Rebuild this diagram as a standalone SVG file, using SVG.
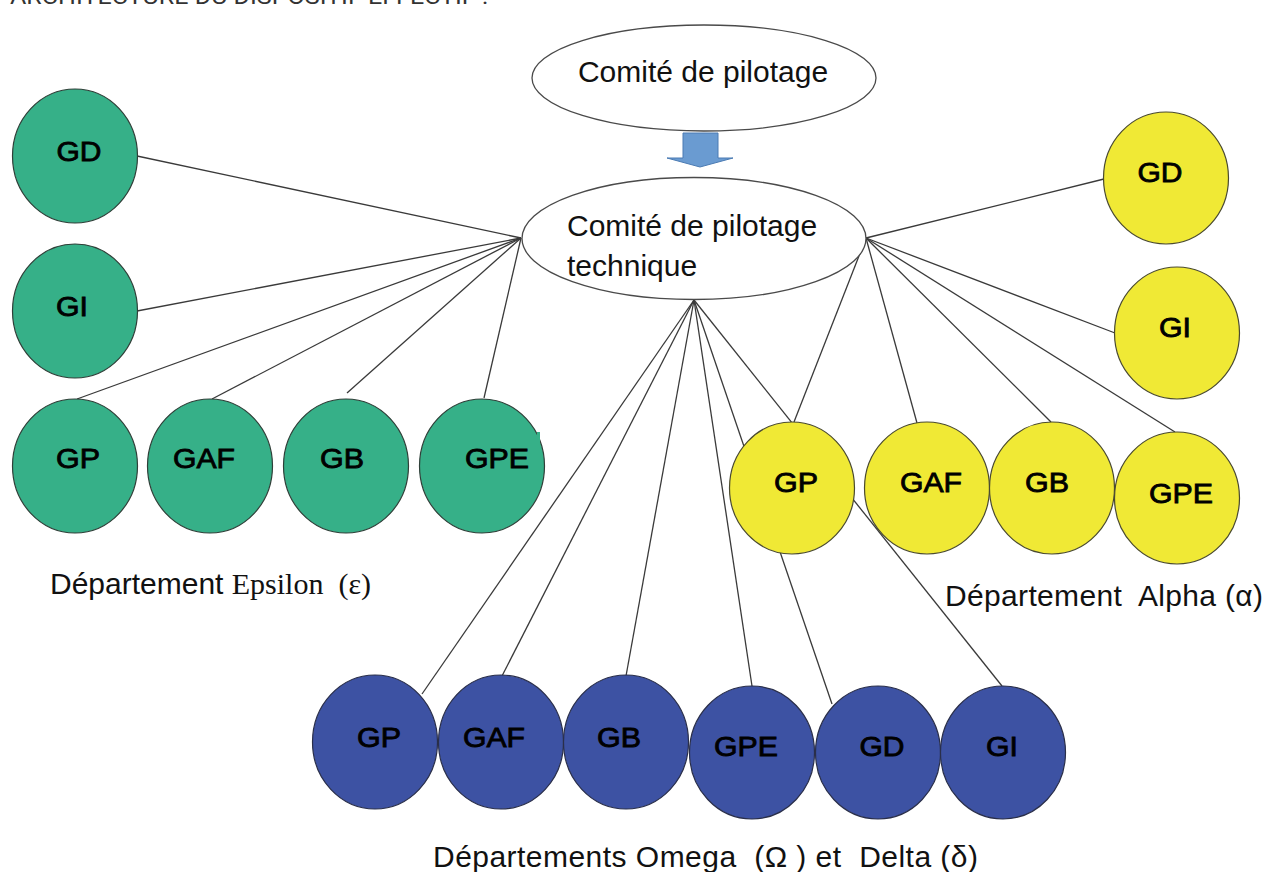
<svg xmlns="http://www.w3.org/2000/svg" width="1266" height="872" viewBox="0 0 1266 872">
<style>
.bg{fill:#ffffff}
.conn line{stroke:#3a3a3a;stroke-width:1.3;fill:none}
.g{fill:#36b088;stroke:#2f3f38;stroke-width:1.2}
.y{fill:#f0e935;stroke:#4a4a30;stroke-width:1.2}
.b{fill:#3d52a3;stroke:#2a2f4a;stroke-width:1.2}
.lbl{font-family:"Liberation Sans",Arial,sans-serif;font-size:27px;fill:#000;stroke:#000;stroke-width:0.8;text-anchor:middle}
.oval{fill:#ffffff;stroke:#4a4a4a;stroke-width:1.3}
.t30{font-family:"Liberation Sans",Arial,sans-serif;font-size:30px;fill:#111}
.serif{font-family:"Liberation Serif","Times New Roman",serif}
</style>
<rect class="bg" x="0" y="0" width="1266" height="872"/>
<text x="10" y="4" font-family="Roboto,'Liberation Sans',sans-serif" font-size="22" fill="#333" textLength="478" lengthAdjust="spacingAndGlyphs">ARCHITECTURE DU DISPOSITIF EFFECTIF :</text>

<g id="connectors" class="conn">
  <line x1="521" y1="238" x2="137" y2="156"/>
  <line x1="521" y1="238" x2="137" y2="311"/>
  <line x1="521" y1="238" x2="77" y2="399"/>
  <line x1="521" y1="238" x2="212" y2="399"/>
  <line x1="521" y1="238" x2="347" y2="393"/>
  <line x1="521" y1="238" x2="484" y2="398"/>
  <line x1="866" y1="238" x2="1104" y2="179"/>
  <line x1="866" y1="238" x2="1115" y2="333"/>
  <line x1="866" y1="238" x2="794" y2="422"/>
  <line x1="866" y1="238" x2="917" y2="423"/>
  <line x1="866" y1="238" x2="1051" y2="422"/>
  <line x1="866" y1="238" x2="1175" y2="432"/>
  <line x1="694" y1="300" x2="422" y2="694"/>
  <line x1="694" y1="300" x2="502" y2="676"/>
  <line x1="694" y1="300" x2="626" y2="676"/>
  <line x1="694" y1="300" x2="752" y2="686"/>
  <line x1="694" y1="300" x2="832" y2="704"/>
  <line x1="694" y1="300" x2="1002" y2="686"/>
</g>

<g id="comite-pilotage">
  <ellipse class="oval" cx="704" cy="78" rx="172" ry="53"/>
  <text class="t30" x="703" y="82" text-anchor="middle">Comité de pilotage</text>
</g>
<g id="arrow">
  <path d="M683 133 L718 133 L718 158 L733 158 L700 167 L667 158 L683 158 Z" fill="#6a9bd1" stroke="#4b7bb3" stroke-width="1"/>
</g>
<g id="comite-technique">
  <ellipse class="oval" cx="694" cy="238.5" rx="172" ry="61"/>
  <text class="t30" x="567" y="236">Comité de pilotage</text>
  <text class="t30" x="567" y="276">technique</text>
</g>

<g id="eps-GD"><ellipse class="g" cx="75" cy="156" rx="62.5" ry="67"/><text class="lbl" x="79" y="161" textLength="45" lengthAdjust="spacingAndGlyphs">GD</text></g>
<g id="eps-GI"><ellipse class="g" cx="75" cy="311" rx="62.5" ry="67"/><text class="lbl" x="72" y="316" textLength="32" lengthAdjust="spacingAndGlyphs">GI</text></g>
<g id="eps-GP"><ellipse class="g" cx="75" cy="466" rx="62.5" ry="67"/><text class="lbl" x="78" y="468" textLength="44" lengthAdjust="spacingAndGlyphs">GP</text></g>
<g id="eps-GAF"><ellipse class="g" cx="210" cy="466" rx="62.5" ry="67"/><text class="lbl" x="204" y="468" textLength="62" lengthAdjust="spacingAndGlyphs">GAF</text></g>
<g id="eps-GB"><ellipse class="g" cx="346" cy="466" rx="62.5" ry="67"/><text class="lbl" x="342" y="468" textLength="44" lengthAdjust="spacingAndGlyphs">GB</text></g>
<g id="eps-GPE"><ellipse class="g" cx="482" cy="466" rx="62.5" ry="67"/><text class="lbl" x="497" y="468" textLength="64" lengthAdjust="spacingAndGlyphs">GPE</text><rect x="537" y="432" width="3" height="11" fill="#36b088"/></g>

<g id="alp-GD"><ellipse class="y" cx="1166" cy="178" rx="62.5" ry="66"/><text class="lbl" x="1160" y="182" textLength="45" lengthAdjust="spacingAndGlyphs">GD</text></g>
<g id="alp-GI"><ellipse class="y" cx="1177" cy="333" rx="62.5" ry="66"/><text class="lbl" x="1175" y="337" textLength="32" lengthAdjust="spacingAndGlyphs">GI</text></g>
<g id="alp-GP"><ellipse class="y" cx="792" cy="488" rx="62.5" ry="66"/><text class="lbl" x="796" y="492" textLength="44" lengthAdjust="spacingAndGlyphs">GP</text></g>
<g id="alp-GAF"><ellipse class="y" cx="927" cy="488" rx="62.5" ry="66"/><text class="lbl" x="931" y="492" textLength="62" lengthAdjust="spacingAndGlyphs">GAF</text></g>
<g id="alp-GB"><ellipse class="y" cx="1052" cy="488" rx="62.5" ry="66"/><text class="lbl" x="1047" y="492" textLength="44" lengthAdjust="spacingAndGlyphs">GB</text></g>
<g id="alp-GPE"><ellipse class="y" cx="1177" cy="498" rx="62.5" ry="66"/><text class="lbl" x="1181" y="503" textLength="64" lengthAdjust="spacingAndGlyphs">GPE</text></g>

<g id="om-GP"><ellipse class="b" cx="375" cy="742" rx="62.5" ry="67"/><text class="lbl" x="379" y="747" textLength="44" lengthAdjust="spacingAndGlyphs">GP</text></g>
<g id="om-GAF"><ellipse class="b" cx="501" cy="742" rx="62.5" ry="67"/><text class="lbl" x="494" y="747" textLength="62" lengthAdjust="spacingAndGlyphs">GAF</text></g>
<g id="om-GB"><ellipse class="b" cx="626" cy="742" rx="62.5" ry="67"/><text class="lbl" x="619" y="747" textLength="44" lengthAdjust="spacingAndGlyphs">GB</text></g>
<g id="om-GPE"><ellipse class="b" cx="752" cy="752.5" rx="62.5" ry="66.5"/><text class="lbl" x="746" y="756" textLength="64" lengthAdjust="spacingAndGlyphs">GPE</text></g>
<g id="om-GD"><ellipse class="b" cx="878" cy="752.5" rx="62.5" ry="66.5"/><text class="lbl" x="882" y="756" textLength="45" lengthAdjust="spacingAndGlyphs">GD</text></g>
<g id="om-GI"><ellipse class="b" cx="1003" cy="752.5" rx="62.5" ry="66.5"/><text class="lbl" x="1002" y="756" textLength="32" lengthAdjust="spacingAndGlyphs">GI</text></g>

<g id="label-epsilon">
  <text class="t30" x="50" y="594" xml:space="preserve">Département <tspan class="serif">Epsilon  (ε)</tspan></text>
</g>
<g id="label-alpha">
  <text class="t30" x="945" y="606" xml:space="preserve" textLength="318">Département  Alpha (α)</text>
</g>
<g id="label-omega-delta">
  <text class="t30" x="433" y="867" xml:space="preserve" textLength="545">Départements Omega  (Ω ) et  Delta (δ)</text>
</g>
</svg>
